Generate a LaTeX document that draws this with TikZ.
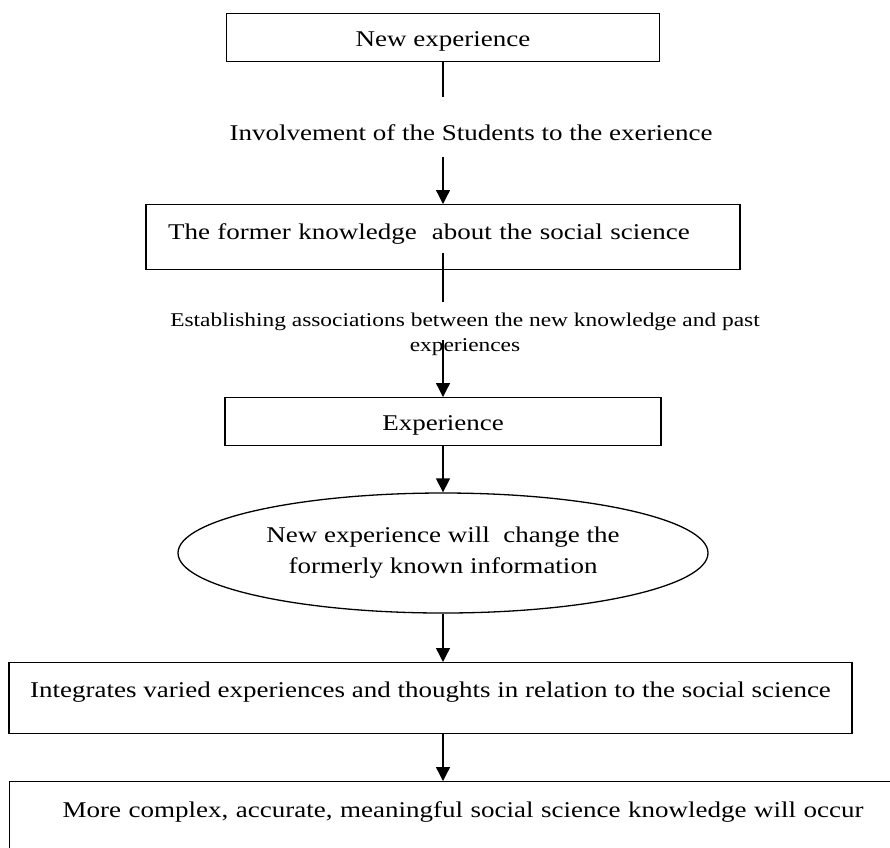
\documentclass[tikz,border=0pt]{standalone}
\usepackage{fontspec}
\setmainfont{Liberation Serif}[FakeStretch=1.2]
\usetikzlibrary{arrows.meta,shapes.geometric}

\tikzset{
	box/.style={draw, line width=1.4pt, inner sep=0pt},
	flow/.style={line width=1.3pt, -{Triangle[width=14pt,length=14pt]}},
	link/.style={line width=1.3pt},
}

\begin{document}
\begin{tikzpicture}[x=1pt,y=-1pt,font=\fontsize{22.5}{31}\selectfont]

		\useasboundingbox (0,0) rectangle (890,847);
		\clip (0,0) rectangle (890,847);

		% new experience
		\node[box, anchor=north, minimum width=433pt, text height=33pt, text depth=15pt] (new) at (443,13) {New experience};
		\coordinate (s1) at (443,97);
		\draw[link] (new) -- (s1);

		% involvement
		\node[anchor=base] (inv) at (471,140) {Involvement of the Students to the exerience};
		\coordinate (s2) at (443,157);

		% former knowledge
		\node[box, anchor=north, inner xsep=22pt, text width=550pt, align=left, text height=35pt, text depth=30pt] (former) at (443,204) {The former knowledge~ about the social science};
		\draw[flow] (s2) -- (former);
		\coordinate (s3) at (443,253);
		\coordinate (s4) at (443,302);
		\draw[link] (s3) -- (s4);

		% associations
		\node[font=\fontsize{19.5}{25}\selectfont, align=center] (est) at (465,334) {Establishing associations between the new knowledge and past\\experiences};
		\coordinate (s5) at (443,340);

		% experience
		\node[box, anchor=north, minimum width=436pt, text height=33pt, text depth=15pt] (exp) at (443,397) {Experience};
		\draw[flow] (s5) -- (exp);

		% change
		\node[draw, ellipse, line width=1.3pt, inner sep=0pt, minimum width=530pt, minimum height=120pt, align=center] (change) at (443,553) {New experience will~ change the\\formerly known information};
		\draw[flow] (exp) -- (change);

		% integrates
		\node[box, anchor=north, minimum width=843pt, text height=35pt, text depth=36pt] (integ) at (430.5,662) {Integrates varied experiences and thoughts in relation to the social science};
		\draw[flow] (change.south) -- (change.south |- integ.north);

		% more complex
		\node[box, anchor=north west, inner xsep=53pt, text width=830pt, align=left, text height=36pt, text depth=44pt] (more) at (9,781) {More complex, accurate, meaningful social science knowledge will occur};
		\draw[flow] (change.south |- integ.south) -- (change.south |- more.north);

\end{tikzpicture}
\end{document}
